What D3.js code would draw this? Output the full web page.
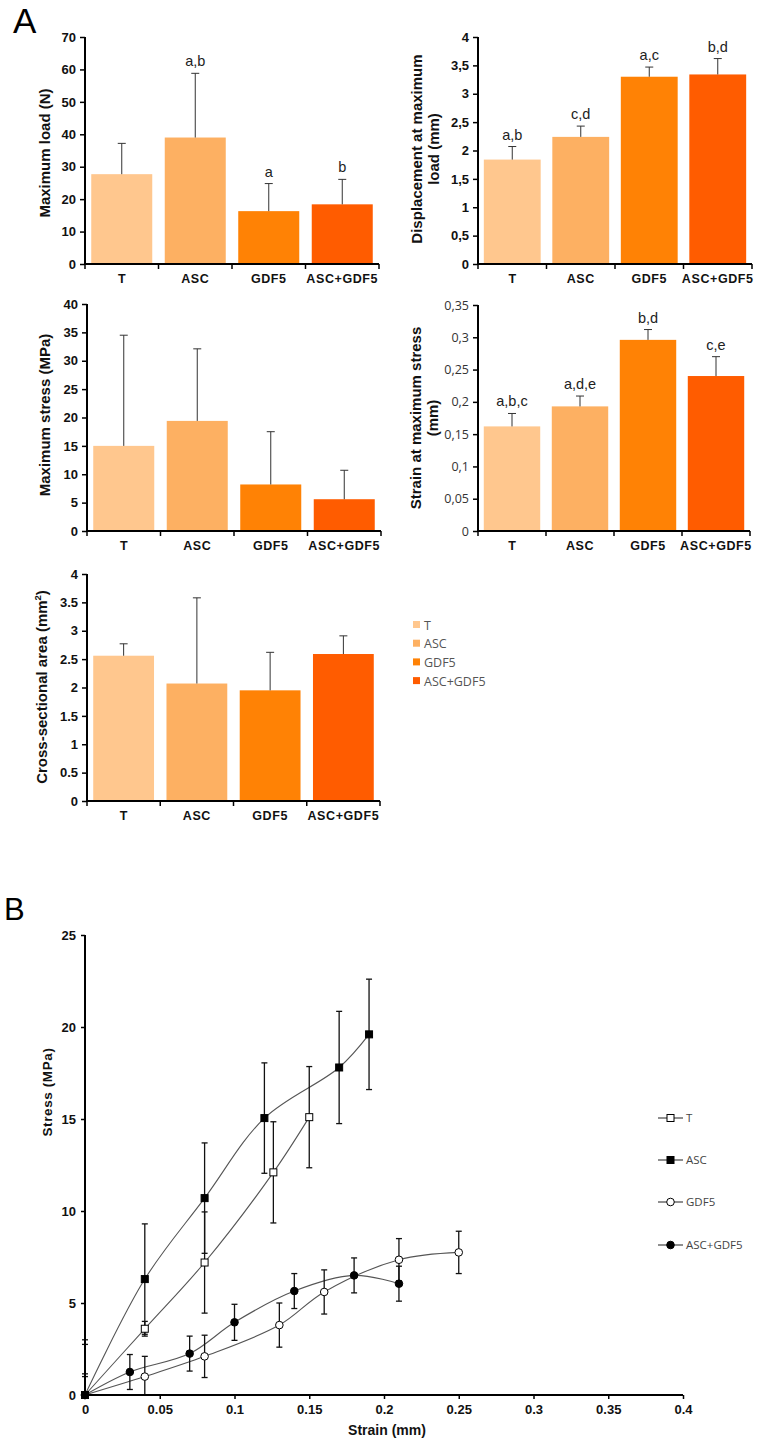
<!DOCTYPE html>
<html><head><meta charset="utf-8">
<script src="https://cdn.jsdelivr.net/npm/d3@7"></script>
<style>body{margin:0;background:#fff}svg{display:block}</style>
</head><body>
<script>
// ---------- DATA ----------
const categories = ["T", "ASC", "GDF5", "ASC+GDF5"];
const barColors = ["#FFC78E", "#FDB062", "#FF8205", "#FF5C00"];

const loadMean = [27.7, 39.0, 16.3, 18.4];
const loadErr = [9.5, 19.8, 8.5, 7.7];
const loadSig = ["", "a,b", "a", "b"];

const dispMean = [1.84, 2.24, 3.30, 3.34];
const dispErr = [0.23, 0.19, 0.17, 0.28];
const dispSig = ["a,b", "c,d", "a,c", "b,d"];

const stressMean = [15.0, 19.4, 8.2, 5.6];
const stressErr = [19.5, 12.7, 9.3, 5.1];

const strainMean = [0.162, 0.193, 0.296, 0.240];
const strainErr = [0.020, 0.016, 0.016, 0.030];
const strainSig = ["a,b,c", "a,d,e", "b,d", "c,e"];

const areaMean = [2.56, 2.07, 1.95, 2.59];
const areaErr = [0.21, 1.51, 0.67, 0.32];

// Panel B: stress-strain curves
const tX = [0, 0.04, 0.08, 0.126, 0.15];
const tY = [0, 3.6, 7.2, 12.1, 15.1];
const tErr = [3.0, 0.4, 2.75, 2.75, 2.75];

const ascX = [0, 0.04, 0.08, 0.12, 0.17, 0.19];
const ascY = [0, 6.3, 10.7, 15.05, 17.8, 19.6];
const ascErr = [2.75, 3.0, 3.0, 3.0, 3.05, 3.0];

const gdfX = [0, 0.04, 0.08, 0.13, 0.16, 0.21, 0.25];
const gdfY = [0, 1.0, 2.1, 3.8, 5.6, 7.35, 7.75];
const gdfErr = [1.15, 1.1, 1.15, 1.2, 1.2, 1.15, 1.15];

const agX = [0, 0.03, 0.07, 0.1, 0.14, 0.18, 0.21];
const agY = [0, 1.25, 2.25, 3.95, 5.65, 6.5, 6.05];
const agErr = [1.0, 0.95, 0.95, 0.98, 0.95, 0.95, 0.95];

const bXTicks = [0, 0.05, 0.1, 0.15, 0.2, 0.25, 0.3, 0.35, 0.4];
const bYTicks = [0, 5, 10, 15, 20, 25];

// ---------- DRAW ----------
const svg = d3.select("body").append("svg").attr("width", 760).attr("height", 1443);
svg.append("rect").attr("width", 760).attr("height", 1443).attr("fill", "#fff");
const F = "'Liberation Sans', Arial, sans-serif";
const F2 = "'Open Sans', 'Noto Sans', sans-serif";

svg.append("text").attr("x", 13).attr("y", 33).attr("font-family", F).attr("font-size", 35).text("A");
svg.append("text").attr("x", 4).attr("y", 920).attr("font-family", F).attr("font-size", 31).text("B");

function barChart(o) {
  const g = svg.append("g");
  const x = d3.scaleBand().domain(categories).range([o.left, o.right]).paddingInner(0.17).paddingOuter(0.085);
  const y = d3.scaleLinear().domain([0, o.max]).range([o.bottom, o.top]);
  g.selectAll("rect.bar").data(categories).join("rect")
    .attr("x", d => x(d)).attr("width", x.bandwidth())
    .attr("y", (d, i) => y(o.mean[i])).attr("height", (d, i) => o.bottom - y(o.mean[i]))
    .attr("fill", (d, i) => barColors[i]);
  categories.forEach((c, i) => {
    const cx = x(c) + x.bandwidth() / 2;
    const yt = y(o.mean[i] + o.err[i]);
    g.append("line").attr("x1", cx).attr("x2", cx).attr("y1", y(o.mean[i])).attr("y2", yt).attr("stroke", "#333").attr("stroke-width", 1);
    g.append("line").attr("x1", cx - 4).attr("x2", cx + 4).attr("y1", yt).attr("y2", yt).attr("stroke", "#333").attr("stroke-width", 1);
    if (o.sig && o.sig[i]) {
      g.append("text").attr("x", cx).attr("y", yt - 7).attr("text-anchor", "middle")
        .attr("font-family", F).attr("font-size", 14.5).attr("fill", "#222").text(o.sig[i]);
    }
  });
  const ticks = d3.range(0, o.max + o.step / 2, o.step);
  const ya = d3.axisLeft(y).tickValues(ticks).tickSize(5).tickPadding(4).tickFormat(o.fmt);
  const yg = g.append("g").attr("transform", `translate(${o.left},0)`).call(ya);
  yg.select(".domain").attr("stroke", "#000").attr("stroke-width", 2).attr("d", `M0,${o.top}V${o.bottom}`);
  yg.selectAll(".tick line").attr("stroke", "#000").attr("stroke-width", 1.5);
  yg.selectAll(".tick text").attr("font-family", o.light ? F2 : F).attr("font-weight", o.light ? "normal" : "bold")
    .attr("font-size", o.light ? 12.5 : 13).attr("fill", o.light ? "#333" : "#111");
  g.append("line").attr("x1", o.left).attr("x2", o.right).attr("y1", o.bottom).attr("y2", o.bottom).attr("stroke", "#000").attr("stroke-width", 2);
  for (let k = 0; k <= categories.length; k++) {
    const xx = o.left + k * (o.right - o.left) / categories.length;
    g.append("line").attr("x1", xx).attr("x2", xx).attr("y1", o.bottom).attr("y2", o.bottom + 5).attr("stroke", "#000").attr("stroke-width", 1.5);
  }
  g.selectAll("text.cat").data(categories).join("text")
    .attr("x", d => x(d) + x.bandwidth() / 2).attr("y", o.bottom + 19).attr("text-anchor", "middle")
    .attr("font-family", F).attr("font-weight", "bold").attr("font-size", 12.5).attr("letter-spacing", d => d === "T" ? 0 : 0.6)
    .attr("fill", "#111").text(d => d);
  if (o.title) {
    const t = g.append("text").attr("transform", `translate(${o.tx},${o.ty}) rotate(-90)`).attr("text-anchor", "middle")
      .attr("font-family", F).attr("font-weight", "bold").attr("font-size", 15).attr("fill", "#111");
    o.title.forEach((line, i) => {
      t.append("tspan").attr("x", 0).attr("dy", i === 0 ? (o.title.length === 1 ? 5 : -3) : 17).text(line);
    });
  }
  return g;
}
const comma = d => d3.format("")(+d.toFixed(2)).replace(".", ",");

barChart({left: 85, right: 379, top: 37, bottom: 264, max: 70, step: 10, fmt: d3.format("d"),
  mean: loadMean, err: loadErr, sig: loadSig, title: ["Maximum load (N)"], tx: 45, ty: 153});
barChart({left: 478, right: 752, top: 37, bottom: 264, max: 4, step: 0.5, fmt: comma,
  mean: dispMean, err: dispErr, sig: dispSig, title: ["Displacement at maximum", "load (mm)"], tx: 425, ty: 149});
barChart({left: 87, right: 381, top: 304, bottom: 531, max: 40, step: 5, fmt: d3.format("d"),
  mean: stressMean, err: stressErr, title: ["Maximum stress (MPa)"], tx: 45, ty: 415});
barChart({left: 478, right: 750, top: 305, bottom: 531, max: 0.35, step: 0.05, fmt: comma, light: true,
  mean: strainMean, err: strainErr, sig: strainSig, title: ["Strain at maximum stress", "(mm)"], tx: 424, ty: 418});

(function(){
  const o = {left: 87, right: 380, top: 574, bottom: 801, max: 4, step: 0.5, fmt: d => d3.format("")(+d.toFixed(1)),
    mean: areaMean, err: areaErr, tx: 42, ty: 687};
  const g = barChart(o);
  const tt = g.append("text").attr("transform", `translate(${o.tx + 5},${o.ty}) rotate(-90)`).attr("text-anchor", "middle")
    .attr("font-family", F).attr("font-weight", "bold").attr("font-size", 15).attr("fill", "#111");
  tt.append("tspan").text("Cross-sectional area (mm");
  tt.append("tspan").attr("font-size", 9.5).attr("dy", -6).text("2");
  tt.append("tspan").attr("dy", 6).text(")");
})();

const legA = svg.append("g");
categories.forEach((c, i) => {
  const yy = 625 + i * 18.7;
  legA.append("rect").attr("x", 413).attr("y", yy - 4).attr("width", 7).attr("height", 7).attr("fill", barColors[i]);
  legA.append("text").attr("x", 424).attr("y", yy + 4.5).attr("font-family", F2).attr("font-size", 12.5).attr("fill", "#555").text(c);
});

// ---------- Panel B ----------
const bx = d3.scaleLinear().domain([0, 0.4]).range([85, 683]);
const by = d3.scaleLinear().domain([0, 25]).range([1395, 935]);
const gb = svg.append("g");

const series = [
  {name: "T", x: tX, y: tY, e: tErr, shape: "square", fill: "#fff"},
  {name: "ASC", x: ascX, y: ascY, e: ascErr, shape: "square", fill: "#000"},
  {name: "GDF5", x: gdfX, y: gdfY, e: gdfErr, shape: "circle", fill: "#fff"},
  {name: "ASC+GDF5", x: agX, y: agY, e: agErr, shape: "circle", fill: "#000"}
];
const lineGen = d3.line().x(d => bx(d[0])).y(d => by(d[1])).curve(d3.curveCatmullRom.alpha(0.5));

series.forEach(s => {
  const pts = s.x.map((v, i) => [v, s.y[i]]);
  gb.append("path").attr("d", lineGen(pts)).attr("fill", "none").attr("stroke", "#555").attr("stroke-width", 1.1);
});
series.forEach(s => {
  s.x.forEach((v, i) => {
    const cx = bx(v);
    const lo = Math.max(0, s.y[i] - s.e[i]), hi = s.y[i] + s.e[i];
    gb.append("line").attr("x1", cx).attr("x2", cx).attr("y1", by(lo)).attr("y2", by(hi)).attr("stroke", "#111").attr("stroke-width", 1.3);
    gb.append("line").attr("x1", cx - 3).attr("x2", cx + 3).attr("y1", by(hi)).attr("y2", by(hi)).attr("stroke", "#111").attr("stroke-width", 1.3);
    if (s.y[i] - s.e[i] > 0)
      gb.append("line").attr("x1", cx - 3).attr("x2", cx + 3).attr("y1", by(lo)).attr("y2", by(lo)).attr("stroke", "#111").attr("stroke-width", 1.3);
  });
});
function marker(g, s, cx, cy) {
  if (s.shape === "square")
    g.append("rect").attr("x", cx - 3.5).attr("y", cy - 3.5).attr("width", 7).attr("height", 7)
      .attr("fill", s.fill).attr("stroke", "#000").attr("stroke-width", 1);
  else
    g.append("circle").attr("cx", cx).attr("cy", cy).attr("r", 3.8).attr("fill", s.fill).attr("stroke", "#000").attr("stroke-width", 1);
}
series.forEach(s => s.x.forEach((v, i) => marker(gb, s, bx(v), by(s.y[i]))));

const yaB = gb.append("g").attr("transform", "translate(85,0)")
  .call(d3.axisLeft(by).tickValues(bYTicks).tickSize(4).tickPadding(5).tickFormat(d3.format("d")));
yaB.select(".domain").attr("stroke", "#000").attr("stroke-width", 2).attr("d", "M0,935V1395");
yaB.selectAll(".tick line").attr("stroke", "#000").attr("stroke-width", 1.5);
yaB.selectAll(".tick text").attr("font-family", F).attr("font-weight", "bold").attr("font-size", 13).attr("fill", "#111");

const xaB = gb.append("g").attr("transform", "translate(0,1395)")
  .call(d3.axisBottom(bx).tickValues(bXTicks).tickSize(4).tickPadding(6).tickFormat(d => d === 0 ? "0" : d3.format("")(+d.toFixed(2))));
xaB.select(".domain").attr("stroke", "#000").attr("stroke-width", 2).attr("d", "M85,0H683");
xaB.selectAll(".tick line").attr("stroke", "#000").attr("stroke-width", 1.5);
xaB.selectAll(".tick text").attr("font-family", F).attr("font-weight", "bold").attr("font-size", 13).attr("fill", "#111");

gb.append("text").attr("transform", "translate(52,1092) rotate(-90)").attr("text-anchor", "middle")
  .attr("font-family", F).attr("font-weight", "bold").attr("font-size", 13.5).attr("letter-spacing", 0.6).attr("fill", "#111").text("Stress (MPa)");
gb.append("text").attr("x", 387).attr("y", 1435).attr("text-anchor", "middle")
  .attr("font-family", F).attr("font-weight", "bold").attr("font-size", 14).attr("fill", "#111").text("Strain (mm)");

const legYs = [1118, 1160, 1202, 1245];
series.forEach((s, i) => {
  const yy = legYs[i];
  gb.append("line").attr("x1", 658).attr("x2", 683).attr("y1", yy).attr("y2", yy).attr("stroke", "#333").attr("stroke-width", 1.1);
  marker(gb, s, 670.5, yy);
  gb.append("text").attr("x", 686).attr("y", yy + 4).attr("font-family", F2).attr("font-size", 11.5).attr("fill", "#444").text(s.name);
});
</script>
</body></html>
